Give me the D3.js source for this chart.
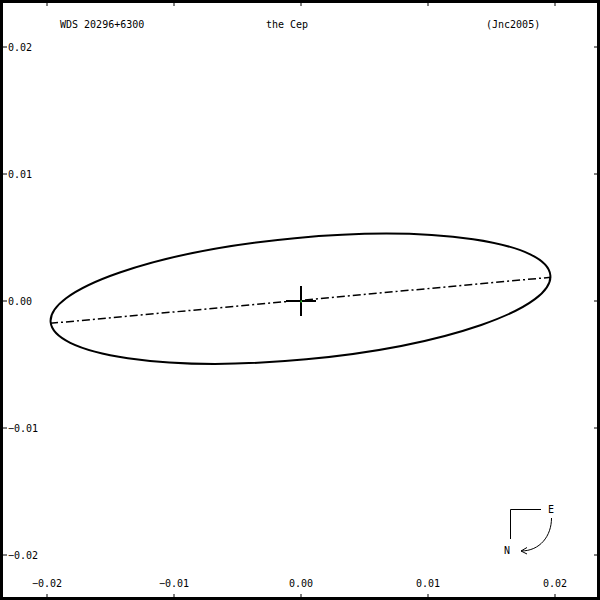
<!DOCTYPE html>
<html>
<head>
<meta charset="utf-8">
<script src="https://cdn.jsdelivr.net/npm/d3@7"></script>
<style>
  body { margin: 0; background: #fff; }
  svg text { font-family: "DejaVu Sans Mono", monospace; font-size: 10px; fill: #000; }
</style>
</head>
<body>
<div id="chart"></div>
<script>
const width = 600;
const height = 600;

// tick values (arcsec)
const xTicks = [-0.02, -0.01, 0.00, 0.01, 0.02];
const yTicks = [-0.02, -0.01, 0.00, 0.01, 0.02];

// apparent orbit: centre, semi-axes, position angle of major axis (deg, counter-clockwise)
const orbitCenter = [-0.00004, 0.00018];
const orbitAxes = [0.01976, 0.00479];
const orbitTilt = 5.37;

// line of nodes end points
const nodeLine = [[-0.01976, -0.00176], [0.01969, 0.00187]];

// primary star position
const primary = [0, 0];

const titles = ["WDS 20296+6300", "the Cep", "(Jnc2005)"];

const x = d3.scaleLinear().domain([-0.02, 0.02]).range([47, 555]);
const y = d3.scaleLinear().domain([-0.02, 0.02]).range([555, 47]);

const svg = d3.select("#chart").append("svg")
  .attr("width", width)
  .attr("height", height);

svg.append("rect")
  .attr("x", 1.5).attr("y", 1.5)
  .attr("width", width - 3).attr("height", height - 3)
  .attr("fill", "none")
  .attr("stroke", "#000")
  .attr("stroke-width", 3);

// ticks on all four sides
const tk = svg.append("g").attr("stroke", "#000").attr("stroke-width", 1);
xTicks.forEach(t => {
  tk.append("line").attr("x1", x(t)).attr("x2", x(t)).attr("y1", 0).attr("y2", 6);
  tk.append("line").attr("x1", x(t)).attr("x2", x(t)).attr("y1", height - 6).attr("y2", height);
});
yTicks.forEach(t => {
  tk.append("line").attr("y1", y(t)).attr("y2", y(t)).attr("x1", 0).attr("x2", 7);
  tk.append("line").attr("y1", y(t)).attr("y2", y(t)).attr("x1", width - 6).attr("x2", width);
});

const fmt = d3.format(".2f");

svg.selectAll(".xlab")
  .data(xTicks)
  .join("text")
  .attr("class", "xlab")
  .attr("x", d => x(d))
  .attr("y", 587)
  .attr("text-anchor", "middle")
  .text(d => fmt(d));

svg.selectAll(".ylab")
  .data(yTicks)
  .join("text")
  .attr("class", "ylab")
  .attr("x", 8)
  .attr("y", d => y(d) + 4)
  .text(d => fmt(d));

// header
svg.append("text").attr("x", 60).attr("y", 28).text(titles[0]);
svg.append("text").attr("x", 287).attr("y", 28).attr("text-anchor", "middle").text(titles[1]);
svg.append("text").attr("x", 486).attr("y", 28).text(titles[2]);

// orbit ellipse
svg.append("ellipse")
  .attr("cx", x(orbitCenter[0]))
  .attr("cy", y(orbitCenter[1]))
  .attr("rx", x(orbitAxes[0]) - x(0))
  .attr("ry", x(orbitAxes[1]) - x(0))
  .attr("transform", `rotate(${-orbitTilt},${x(orbitCenter[0])},${y(orbitCenter[1])})`)
  .attr("fill", "none")
  .attr("stroke", "#000")
  .attr("stroke-width", 2);

// line of nodes
svg.append("path")
  .attr("d", d3.line().x(d => x(d[0])).y(d => y(d[1]))(nodeLine))
  .attr("fill", "none")
  .attr("stroke", "#000")
  .attr("stroke-width", 1.5)
  .attr("stroke-dasharray", "8,3,2,3");

// primary cross
const px = x(primary[0]), py = y(primary[1]);
svg.append("line").attr("x1", px - 15).attr("x2", px + 15).attr("y1", py).attr("y2", py)
  .attr("stroke", "#000").attr("stroke-width", 2);
svg.append("line").attr("x1", px).attr("x2", px).attr("y1", py - 15).attr("y2", py + 15)
  .attr("stroke", "#000").attr("stroke-width", 2);
svg.append("rect").attr("x", px - 0.5).attr("y", py - 0.5).attr("width", 1.5).attr("height", 2)
  .attr("fill", "#3c3");

// compass
const comp = svg.append("g").attr("stroke", "#000").attr("fill", "none").attr("stroke-width", 1);
comp.append("path").attr("d", "M541,509.5H510.5V539");
comp.append("path").attr("d", "M551.5,518 C551.5,536 540,551 521,551");
comp.append("path").attr("d", "M527,547.5 L521,551 L527,554");
svg.append("text").attr("x", 548).attr("y", 513).text("E");
svg.append("text").attr("x", 504).attr("y", 554).text("N");
</script>
</body>
</html>
